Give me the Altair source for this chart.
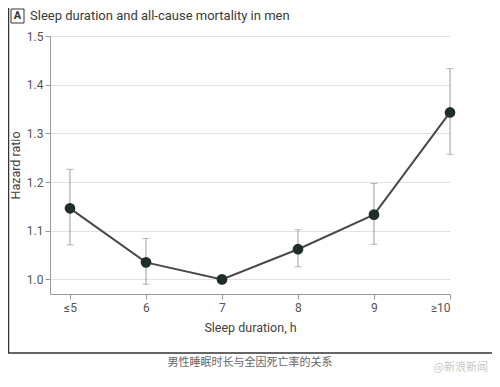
import altair as alt
import pandas as pd

# ---- data ----
hours = [5, 6, 7, 8, 9, 10]
categories = ["≤5", "6", "7", "8", "9", "≥10"]
hazard_ratio = [1.146, 1.035, 1.000, 1.062, 1.133, 1.343]
ci_lower = [1.071, 0.990, 1.000, 1.026, 1.072, 1.257]
ci_upper = [1.226, 1.084, 1.000, 1.102, 1.197, 1.433]
y_ticks = [1.0, 1.1, 1.2, 1.3, 1.4, 1.5]

title_text = "Sleep duration and all-cause mortality in men"
panel_letter = "A"
caption_text = "男性睡眠时长与全因死亡率的关系"
watermark_text = "@新浪新闻"

df = pd.DataFrame({"h": hours, "cat": categories, "hr": hazard_ratio,
                   "lo": ci_lower, "hi": ci_upper})
one = pd.DataFrame({"k": [0]})

FONT = "Roboto"
W, H = 400, 258

label_js = "[" + ",".join("'" + c + "'" for c in categories) + "]"

xscale = alt.Scale(domain=[4.737, 10], nice=False, zero=False)
yscale = alt.Scale(domain=[0.97, 1.5], nice=False, zero=False)

xaxis = alt.Axis(values=hours, title="Sleep duration, h", grid=False,
                 labelExpr=label_js + "[datum.value - 5]",
                 tickSize=5, tickColor="#999", domainColor="#999",
                 labelFontSize=12, labelColor="#555", labelPadding=3,
                 titleFontSize=12.5, titleFontWeight="normal", titleColor="#444",
                 titlePadding=8, labelFont=FONT, titleFont=FONT)
yaxis = alt.Axis(values=y_ticks, format=".1f", title="Hazard ratio", grid=True,
                 gridColor="#e2e2e2", tickSize=5, tickColor="#999", domainColor="#999",
                 labelFontSize=12, labelColor="#555", labelPadding=2,
                 titleFontSize=12.5, titleFontWeight="normal", titleColor="#444",
                 titlePadding=4, labelFont=FONT, titleFont=FONT)

base = alt.Chart(df)

rules = base.mark_rule(color="#9a9a9a", strokeWidth=1).encode(
    x=alt.X("h:Q", scale=xscale, axis=xaxis),
    y=alt.Y("lo:Q", scale=yscale, axis=yaxis),
    y2="hi:Q",
)
cap_lo = base.mark_tick(color="#9a9a9a", thickness=1, size=7, orient="horizontal").encode(
    x=alt.X("h:Q", scale=xscale), y=alt.Y("lo:Q", scale=yscale))
cap_hi = base.mark_tick(color="#9a9a9a", thickness=1, size=7, orient="horizontal").encode(
    x=alt.X("h:Q", scale=xscale), y=alt.Y("hi:Q", scale=yscale))

line = base.mark_line(color="#4a4a4a", strokeWidth=2).encode(
    x=alt.X("h:Q", scale=xscale), y=alt.Y("hr:Q", scale=yscale))
points = base.mark_point(filled=True, color="#1f2e29", size=115, opacity=1).encode(
    x=alt.X("h:Q", scale=xscale), y=alt.Y("hr:Q", scale=yscale))

ob = alt.Chart(one)
# left frame line and bottom separator
frame_left = ob.mark_rule(color="#333", strokeWidth=1.5).encode(
    x=alt.value(-41.5), y=alt.value(-28), y2=alt.value(317))
frame_bottom = ob.mark_rule(color="#333", strokeWidth=1.5).encode(
    x=alt.value(-42), x2=alt.value(442), y=alt.value(317))
# panel letter box
box = ob.mark_rect(fill="white", stroke="#333", strokeWidth=1).encode(
    x=alt.value(-39), x2=alt.value(-26), y=alt.value(-27), y2=alt.value(-13))
letter = ob.mark_text(font=FONT, fontSize=11, fontWeight="bold", color="#333",
                      align="center", baseline="middle").encode(
    x=alt.value(-32.5), y=alt.value(-20), text=alt.value(panel_letter))
title = ob.mark_text(font=FONT, fontSize=13, color="#3a3a3a",
                     align="left", baseline="middle").encode(
    x=alt.value(-20), y=alt.value(-20), text=alt.value(title_text))
caption = ob.mark_text(font="Noto Sans CJK SC", fontSize=11, color="#666",
                       align="center", baseline="middle").encode(
    x=alt.value(200), y=alt.value(327), text=alt.value(caption_text))
watermark = ob.mark_text(font="Noto Sans CJK SC", fontSize=11, color="#c8c8c8",
                         align="right", baseline="middle").encode(
    x=alt.value(438), y=alt.value(332), text=alt.value(watermark_text))

chart = alt.layer(
    rules, cap_lo, cap_hi, line, points,
    frame_left, frame_bottom, box, letter, title, caption, watermark
).properties(
    width=W, height=H,
    autosize=alt.AutoSizeParams(type="none"),
    padding={"left": 42, "top": 28, "right": 42, "bottom": 80},
    background="white",
).configure_view(stroke=None)

chart.save("out.html", embed_options={"renderer": "svg", "actions": False})
